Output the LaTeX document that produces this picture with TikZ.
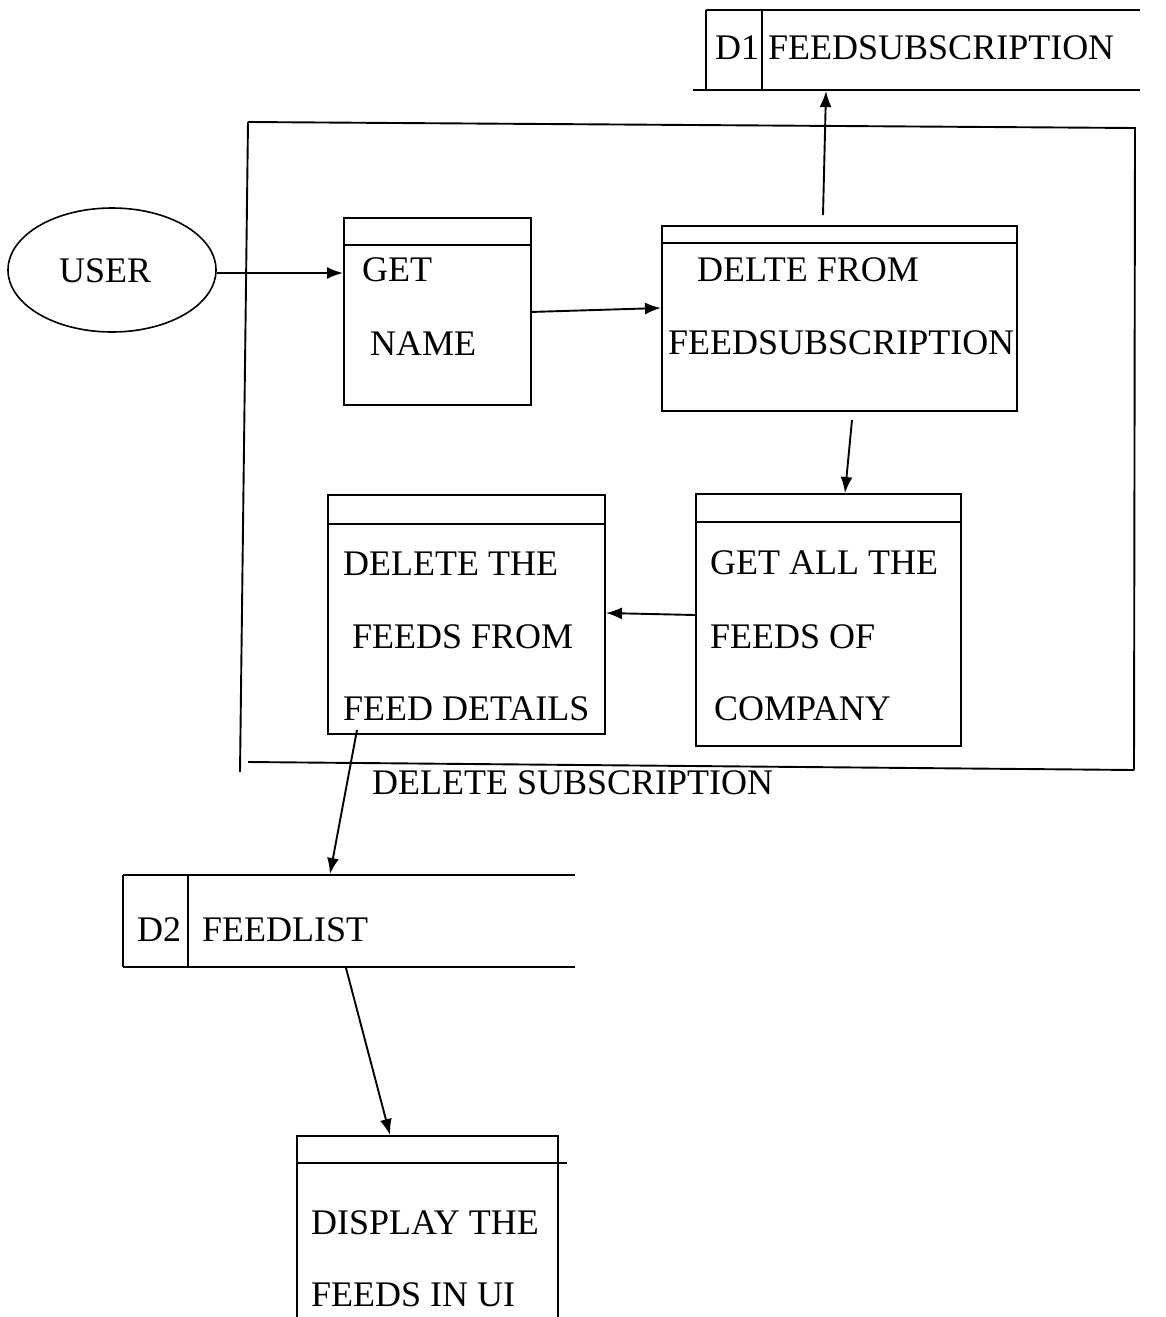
\documentclass[tikz,border=0pt]{standalone}
\usepackage{fontspec}
\setmainfont{Liberation Serif}
\usetikzlibrary{arrows.meta,shapes.geometric}
\begin{document}
\begin{tikzpicture}[x=1pt,y=-1pt,
  every node/.style={font=\fontsize{36}{40}\selectfont},
  ln/.style={line width=1.9pt},
  proc/.style={draw,line width=1.9pt,inner sep=0pt,anchor=north west},
  txt/.style={anchor=base west,inner sep=0pt},
  flow/.style={line width=1.9pt,-{Latex[length=16pt,width=12pt]}},
  user/.style={draw,ellipse,line width=1.6pt,inner sep=0pt}]
\useasboundingbox (0,0) rectangle (1165,1317);

% outer process boundary
\draw[ln] (248,122) -- (1135,128) -- (1134,770);
\draw[ln] (248,122) -- (240,772);
\draw[ln] (248,762) -- (1134,770);
\node[txt] (lbl) at (372,794) {DELETE SUBSCRIPTION};

% data store D1
\coordinate (d1tl) at (706,10);
\coordinate (d1tr) at (1140,10);
\coordinate (d1bl) at (693,90);
\coordinate (d1br) at (1140,90);
\draw[ln] (d1tl) -- (d1tr);
\draw[ln] (d1bl) -- (d1br);
\draw[ln] (706,10) -- (706,90);
\draw[ln] (762,10) -- (762,90);
\node[txt] (d1id) at (715,59) {D1};
\node[txt] (d1name) at (768,59) {FEEDSUBSCRIPTION};
\coordinate (d1in) at (826,91);

% external entity
\node[user,minimum width=208pt,minimum height=124pt] (user) at (112,270) {};
\node[txt] at (59,282) {USER};

% process: get name
\node[proc,minimum width=187pt,minimum height=187pt] (getname) at (343,217) {};
\draw[ln] (343,245) -- (530,245);
\node[txt] at (362,281) {GET};
\node[txt] at (370,355) {NAME};

% process: delete from feedsubscription
\node[proc,minimum width=355pt,minimum height=185pt] (delsub) at (661,225) {};
\draw[ln] (661,243) -- (1016,243);
\node[txt] at (697,281) {DELTE FROM};
\node[txt] at (668,354) {FEEDSUBSCRIPTION};

% process: get all the feeds of company
\node[proc,minimum width=265pt,minimum height=252pt] (getall) at (695,493) {};
\draw[ln] (695,522) -- (960,522);
\node[txt] at (710,574) {GET ALL THE};
\node[txt] at (710,648) {FEEDS OF};
\node[txt] at (714,720) {COMPANY};

% process: delete the feeds from feed details
\node[proc,minimum width=277pt,minimum height=239pt] (delfeed) at (327,494) {};
\draw[ln] (327,524) -- (604,524);
\node[txt] at (343,575) {DELETE THE};
\node[txt] at (352,648) {FEEDS FROM};
\node[txt] at (343,720) {FEED DETAILS};

% data store D2
\draw[ln] (123,875) -- (575,875);
\draw[ln] (123,967) -- (575,967);
\draw[ln] (123,875) -- (123,967);
\draw[ln] (188,875) -- (188,967);
\node[txt] (d2id) at (137,941) {D2};
\node[txt] (d2name) at (202,941) {FEEDLIST};
\coordinate (d2in) at (330,874);
\coordinate (d2out) at (346,968);

% process: display the feeds (open at the bottom)
\draw[ln] (297,1317) -- (297,1136) -- (558,1136) -- (558,1317);
\draw[ln] (297,1163) -- (567,1163);
\coordinate (dispin) at (390,1135);
\node[txt] at (311,1234) {DISPLAY THE};
\node[txt] at (311,1306) {FEEDS IN UI};

% data flows
\draw[flow] (user.east |- 0,273) -- (getname.west |- 0,273);
\draw[flow] (530,312) -- (delsub.west |- 0,308);
\draw[flow] (823,215) -- (d1in);
\draw[flow] (852,420) -- (getall.north -| 845,0);
\draw[flow] (getall.west |- 0,615) -- (delfeed.east |- 0,613);
\draw[flow] (357,730) -- (d2in);
\draw[flow] (d2out) -- (dispin);
\end{tikzpicture}
\end{document}
